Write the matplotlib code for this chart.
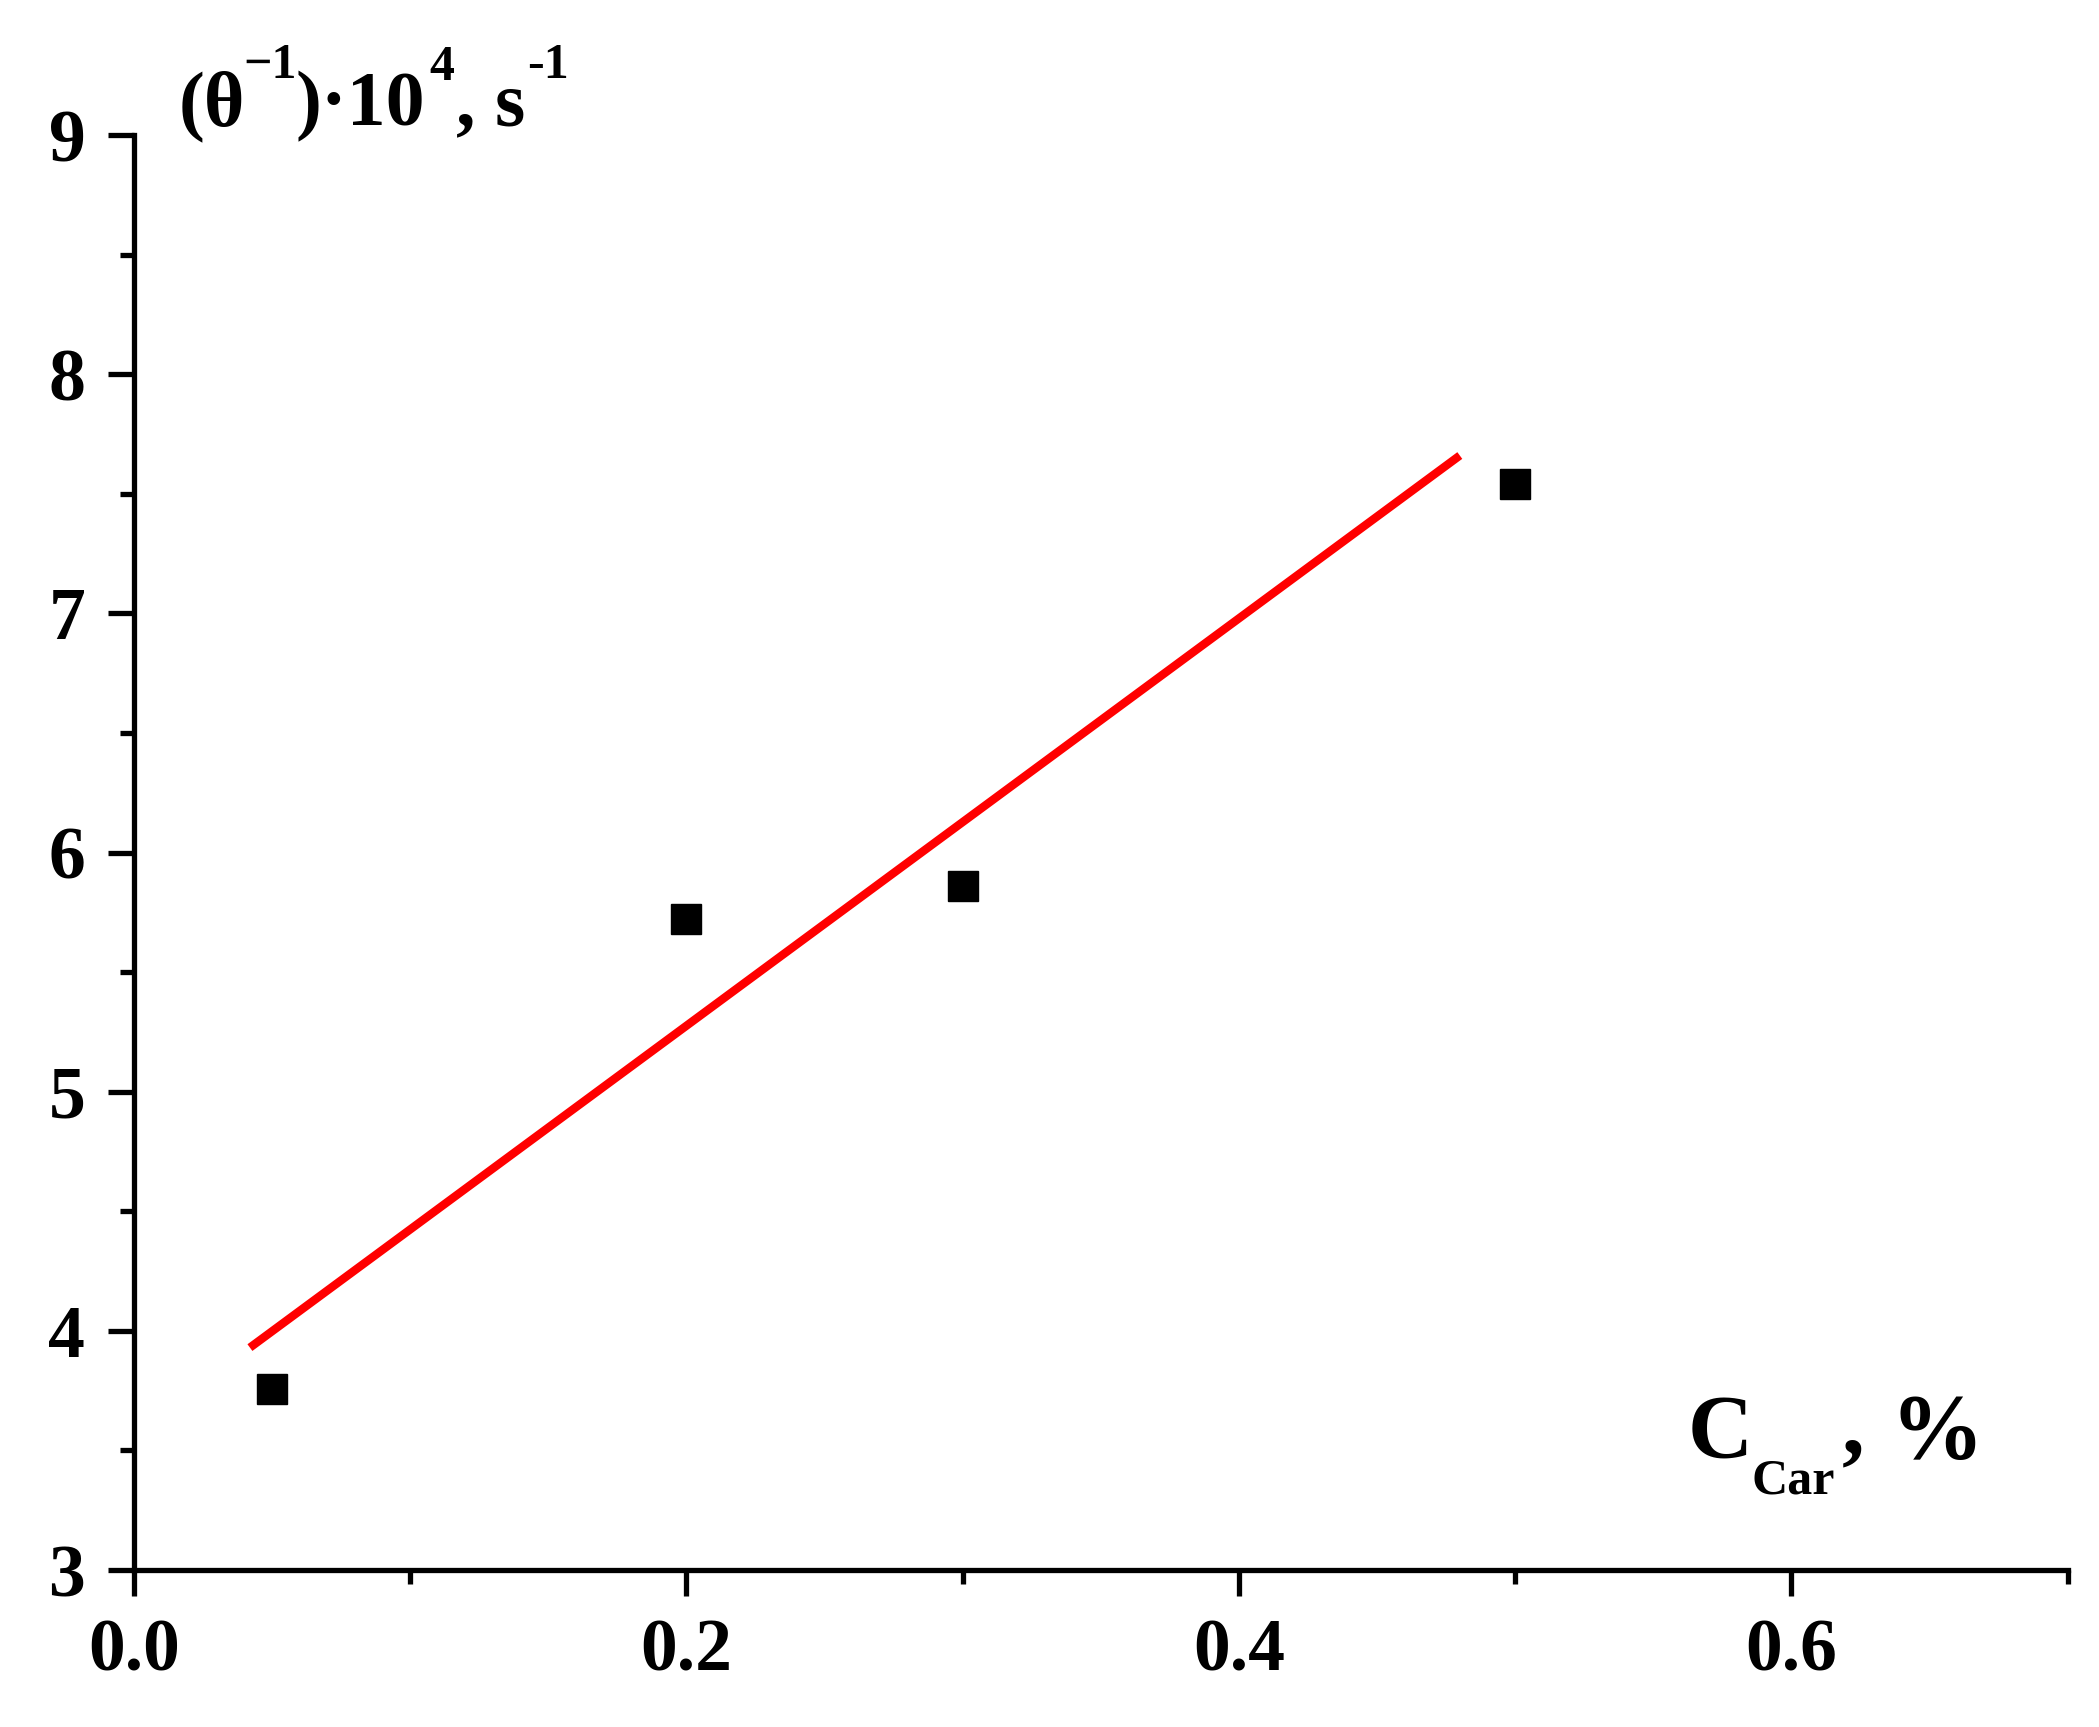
import matplotlib
matplotlib.use("Agg")
import matplotlib.pyplot as plt
from matplotlib.ticker import MultipleLocator, FormatStrFormatter

# measured points
c_car = [0.05, 0.2, 0.3, 0.5]
rate = [3.756, 5.72, 5.86, 7.54]

# red fit line, end points as drawn
fit_x = [0.042, 0.48]
fit_y = [3.93, 7.66]

x_ticks = [0.0, 0.2, 0.4, 0.6]
y_ticks = [3, 4, 5, 6, 7, 8, 9]

W, H = 2099, 1727

plt.rcParams['font.family'] = ['Liberation Serif', 'DejaVu Serif']
plt.rcParams['font.weight'] = 'bold'


def put(fig, x, y, s, size):
    # x, y in pixels from top left, y is the baseline
    fig.text(x / W, 1 - y / H, s, fontsize=size, ha='left', va='baseline',
             fontweight='bold')


def main():
    fig = plt.figure(figsize=(W / 100, H / 100), dpi=100)
    ax = fig.add_axes([0.0638, 0.0909, 0.9212, 0.8309])

    ax.plot(fit_x, fit_y, color='#ff0000', lw=6, solid_capstyle='butt', zorder=2)
    ax.plot(c_car, rate, 's', color='black', ms=21, zorder=3)

    ax.set_xlim(0, 0.7)
    ax.set_ylim(3, 9)
    ax.set_xticks(x_ticks)
    ax.set_yticks(y_ticks)
    ax.xaxis.set_minor_locator(MultipleLocator(0.1))
    ax.yaxis.set_minor_locator(MultipleLocator(0.5))
    ax.xaxis.set_major_formatter(FormatStrFormatter('%.1f'))

    for side in ['top', 'right']:
        ax.spines[side].set_visible(False)
    for side in ['left', 'bottom']:
        ax.spines[side].set_linewidth(3.8)

    ax.tick_params(which='major', length=19, width=3.8, labelsize=53, direction='out')
    ax.tick_params(which='minor', length=10, width=3.8, direction='out')
    ax.tick_params(axis='x', which='major', pad=16)
    ax.tick_params(axis='y', which='major', pad=16)

    # y axis title, built piece by piece
    put(fig, 179, 125, '(θ', 56)
    put(fig, 243, 78, '\u22121', 36)
    put(fig, 295, 125, ')\u00b710', 56)
    put(fig, 429, 80, '4', 36)
    put(fig, 456, 125, ', s', 56)
    put(fig, 527, 78, '-1', 36)

    # x axis title
    put(fig, 1688, 1458, 'C', 65)
    put(fig, 1752, 1494, 'Car', 36)
    put(fig, 1842, 1452, ',', 65)
    put(fig, 1890, 1458, '%', 67)

    fig.savefig('out.png', dpi=100, facecolor='white')


if __name__ == "__main__":
    main()
